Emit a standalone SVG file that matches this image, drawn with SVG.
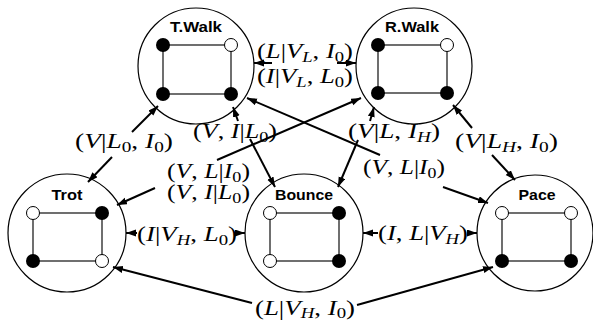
<svg xmlns="http://www.w3.org/2000/svg" width="593" height="322" viewBox="0 0 593 322">
<style>
.c{fill:#fff;stroke:#000;stroke-width:1.2}
.e{fill:none;stroke:#222;stroke-width:1.3}
.f{fill:#000}
.o{fill:#fff;stroke:#000;stroke-width:1}
.n{font-family:"Liberation Sans",Arial,sans-serif;font-weight:bold;font-size:15.5px;text-anchor:middle}
.m{font-family:"Liberation Serif","Times New Roman",serif;font-size:20px;text-anchor:middle}
.i{font-style:italic}
.s{font-size:14px}
.a{stroke:#000;stroke-width:2;fill:none;marker-end:url(#ah)}
</style>
<defs>
<marker id="ah" markerUnits="userSpaceOnUse" markerWidth="11" markerHeight="8" refX="10" refY="3.5" orient="auto">
<path d="M0,0 L10,3.5 L0,7 z" fill="#000"/>
</marker>
</defs>
<rect width="593" height="322" fill="#fff"/>

<g id="twalk">
<circle class="c" cx="196" cy="66" r="58"/>
<text class="n" x="196" y="32" textLength="52" lengthAdjust="spacingAndGlyphs">T.Walk</text>
<rect class="e" x="163" y="45" width="68" height="49"/>
<circle class="f" cx="163" cy="45" r="7"/>
<circle class="o" cx="231" cy="45" r="6.5"/>
<circle class="f" cx="163" cy="94" r="7"/>
<circle class="f" cx="231" cy="94" r="7"/>
</g>

<g id="rwalk">
<circle class="c" cx="414" cy="66" r="58"/>
<text class="n" x="412" y="32" textLength="54" lengthAdjust="spacingAndGlyphs">R.Walk</text>
<rect class="e" x="378" y="45" width="69" height="48"/>
<circle class="f" cx="378" cy="45" r="7"/>
<circle class="o" cx="447" cy="45" r="6.5"/>
<circle class="f" cx="378" cy="93" r="7"/>
<circle class="f" cx="447" cy="93" r="7"/>
</g>

<g id="trot">
<circle class="c" cx="67" cy="233" r="59"/>
<text class="n" x="67" y="200" textLength="31" lengthAdjust="spacingAndGlyphs">Trot</text>
<rect class="e" x="33" y="213" width="69" height="48"/>
<circle class="o" cx="33" cy="213" r="6.5"/>
<circle class="f" cx="102" cy="213" r="7"/>
<circle class="f" cx="33" cy="261" r="7"/>
<circle class="o" cx="102" cy="261" r="6.5"/>
</g>

<g id="bounce">
<circle class="c" cx="304" cy="233" r="59"/>
<text class="n" x="304" y="200" textLength="58" lengthAdjust="spacingAndGlyphs">Bounce</text>
<rect class="e" x="270" y="213" width="69" height="48"/>
<circle class="o" cx="270" cy="213" r="6.5"/>
<circle class="f" cx="339" cy="213" r="7"/>
<circle class="o" cx="270" cy="261" r="6.5"/>
<circle class="f" cx="339" cy="261" r="7"/>
</g>

<g id="pace">
<circle class="c" cx="535" cy="233" r="58"/>
<text class="n" x="537" y="200" textLength="37" lengthAdjust="spacingAndGlyphs">Pace</text>
<rect class="e" x="502" y="213" width="69" height="48"/>
<circle class="o" cx="502" cy="213" r="6.5"/>
<circle class="o" cx="571" cy="213" r="6.5"/>
<circle class="f" cx="502" cy="261" r="7"/>
<circle class="f" cx="571" cy="261" r="7"/>
</g>

<g id="connectors">
<line class="a" x1="272" y1="63" x2="254" y2="63"/>
<line class="a" x1="337" y1="63" x2="356" y2="63"/>
<line class="a" x1="132" y1="132" x2="158" y2="106"/>
<line class="a" x1="112" y1="157" x2="88" y2="182"/>
<line class="a" x1="238" y1="121" x2="233" y2="107"/>
<line class="a" x1="250" y1="139" x2="275" y2="187"/>
<line class="a" x1="217" y1="160" x2="361" y2="98"/>
<line class="a" x1="155" y1="188" x2="117" y2="205"/>
<line class="a" x1="370" y1="121" x2="374" y2="107"/>
<line class="a" x1="358" y1="140" x2="338" y2="187"/>
<line class="a" x1="472" y1="128" x2="453" y2="105"/>
<line class="a" x1="492" y1="155" x2="515" y2="180"/>
<line class="a" x1="380" y1="155" x2="247" y2="98"/>
<line class="a" x1="443" y1="187" x2="488" y2="203"/>
<line class="a" x1="137" y1="233" x2="126" y2="233"/>
<line class="a" x1="237" y1="233" x2="245" y2="233"/>
<line class="a" x1="378" y1="233" x2="363" y2="233"/>
<line class="a" x1="468" y1="233" x2="477" y2="233"/>
<line class="a" x1="252" y1="303" x2="113" y2="267"/>
<line class="a" x1="357" y1="305" x2="493" y2="267"/>
</g>

<g id="labels">
<text class="m" x="305" y="57.5" textLength="96" lengthAdjust="spacingAndGlyphs">(<tspan class="i">L</tspan>|<tspan class="i">V</tspan><tspan class="s i" dy="4">L</tspan><tspan dy="-4">, </tspan><tspan class="i">I</tspan><tspan class="s" dy="4">0</tspan><tspan dy="-4">)</tspan></text>
<text class="m" x="305" y="82.5" textLength="96" lengthAdjust="spacingAndGlyphs">(<tspan class="i">I</tspan>|<tspan class="i">V</tspan><tspan class="s i" dy="4">L</tspan><tspan dy="-4">, </tspan><tspan class="i">L</tspan><tspan class="s" dy="4">0</tspan><tspan dy="-4">)</tspan></text>
<text class="m" x="124" y="148" textLength="98" lengthAdjust="spacingAndGlyphs">(<tspan class="i">V</tspan>|<tspan class="i">L</tspan><tspan class="s" dy="4">0</tspan><tspan dy="-4">, </tspan><tspan class="i">I</tspan><tspan class="s" dy="4">0</tspan><tspan dy="-4">)</tspan></text>
<text class="m" x="235" y="137.5" textLength="84" lengthAdjust="spacingAndGlyphs">(<tspan class="i">V</tspan>, <tspan class="i">I</tspan>|<tspan class="i">L</tspan><tspan class="s" dy="4">0</tspan><tspan dy="-4">)</tspan></text>
<text class="m" x="208.5" y="178" textLength="83" lengthAdjust="spacingAndGlyphs">(<tspan class="i">V</tspan>, <tspan class="i">L</tspan>|<tspan class="i">I</tspan><tspan class="s" dy="4">0</tspan><tspan dy="-4">)</tspan></text>
<text class="m" x="208.5" y="199" textLength="83" lengthAdjust="spacingAndGlyphs">(<tspan class="i">V</tspan>, <tspan class="i">I</tspan>|<tspan class="i">L</tspan><tspan class="s" dy="4">0</tspan><tspan dy="-4">)</tspan></text>
<text class="m" x="394" y="137.5" textLength="92" lengthAdjust="spacingAndGlyphs">(<tspan class="i">V</tspan>|<tspan class="i">L</tspan>, <tspan class="i">I</tspan><tspan class="s i" dy="4">H</tspan><tspan dy="-4">)</tspan></text>
<text class="m" x="506.5" y="148" textLength="103" lengthAdjust="spacingAndGlyphs">(<tspan class="i">V</tspan>|<tspan class="i">L</tspan><tspan class="s i" dy="4">H</tspan><tspan dy="-4">, </tspan><tspan class="i">I</tspan><tspan class="s" dy="4">0</tspan><tspan dy="-4">)</tspan></text>
<text class="m" x="404" y="173.5" textLength="82" lengthAdjust="spacingAndGlyphs">(<tspan class="i">V</tspan>, <tspan class="i">L</tspan>|<tspan class="i">I</tspan><tspan class="s" dy="4">0</tspan><tspan dy="-4">)</tspan></text>
<text class="m" x="187" y="240.5" textLength="100" lengthAdjust="spacingAndGlyphs">(<tspan class="i">I</tspan>|<tspan class="i">V</tspan><tspan class="s i" dy="4">H</tspan><tspan dy="-4">, </tspan><tspan class="i">L</tspan><tspan class="s" dy="4">0</tspan><tspan dy="-4">)</tspan></text>
<text class="m" x="423" y="239.5" textLength="90" lengthAdjust="spacingAndGlyphs">(<tspan class="i">I</tspan>, <tspan class="i">L</tspan>|<tspan class="i">V</tspan><tspan class="s i" dy="4">H</tspan><tspan dy="-4">)</tspan></text>
<text class="m" x="305" y="315" textLength="100" lengthAdjust="spacingAndGlyphs">(<tspan class="i">L</tspan>|<tspan class="i">V</tspan><tspan class="s i" dy="2.5">H</tspan><tspan dy="-2.5">, </tspan><tspan class="i">I</tspan><tspan class="s" dy="2.5">0</tspan><tspan dy="-2.5">)</tspan></text>
</g>
</svg>
